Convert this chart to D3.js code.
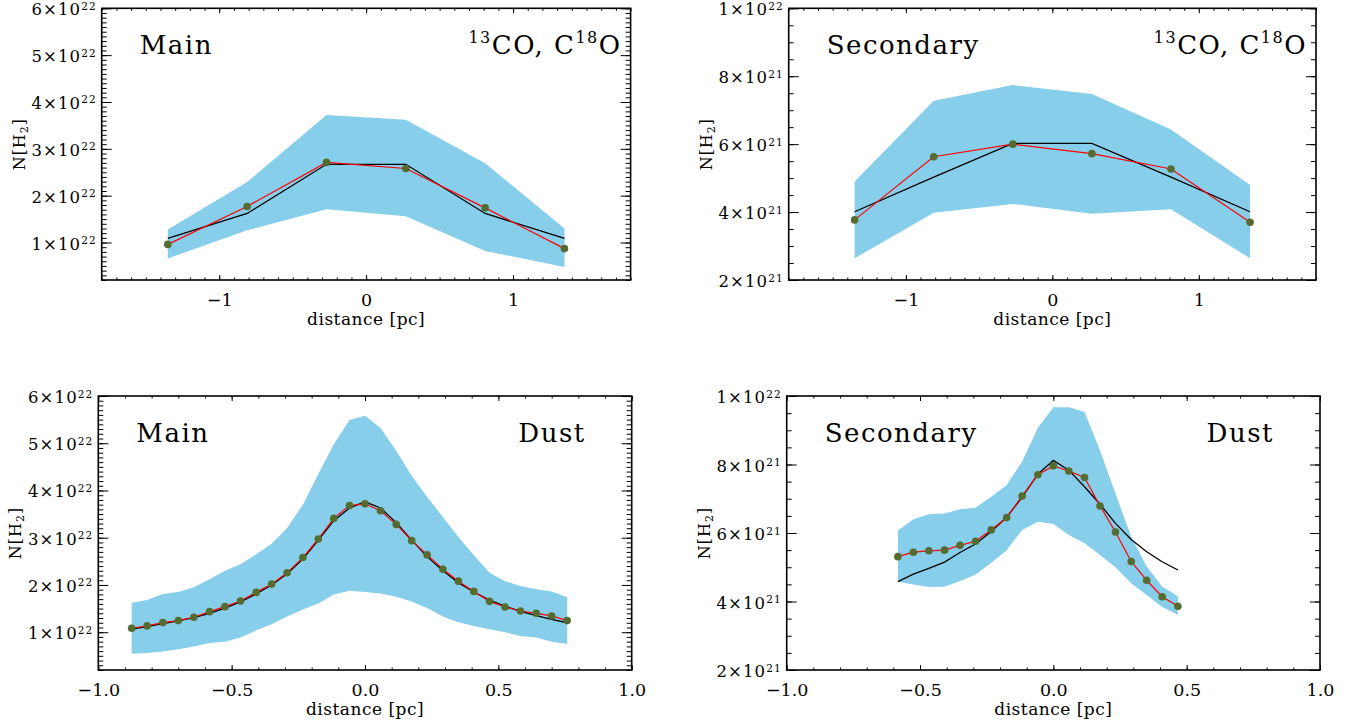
<!DOCTYPE html>
<html>
<head>
<meta charset="utf-8">
<script src="https://cdn.jsdelivr.net/npm/d3@7"></script>
<style>
  body { margin: 0; background: #fff; }
  text { font-family: "DejaVu Serif", serif; fill: #000; }
</style>
</head>
<body>
<svg id="chart" width="1355" height="724"></svg>
<script>
// ---- data (column density in cm^-2, distance in pc) ----

// 13CO / C18O profiles, main filament
var coMainX     = [-1.35, -0.81, -0.27, 0.27, 0.81, 1.35];
var coMainObs   = [0.96e22, 1.77e22, 2.71e22, 2.58e22, 1.74e22, 0.87e22];
var coMainModel = [1.09e22, 1.62e22, 2.67e22, 2.67e22, 1.62e22, 1.09e22];
var coMainHi    = [1.28e22, 2.29e22, 3.72e22, 3.62e22, 2.69e22, 1.30e22];
var coMainLo    = [0.66e22, 1.26e22, 1.71e22, 1.56e22, 0.82e22, 0.475e22];

// 13CO / C18O profiles, secondary filament
var coSecX     = [-1.35, -0.81, -0.27, 0.27, 0.81, 1.35];
var coSecObs   = [3.77e21, 5.63e21, 6.00e21, 5.72e21, 5.27e21, 3.70e21];
var coSecModel = [4.01e21, 5.03e21, 6.02e21, 6.02e21, 5.03e21, 4.01e21];
var coSecHi    = [4.90e21, 7.28e21, 7.74e21, 7.48e21, 6.43e21, 4.80e21];
var coSecLo    = [2.64e21, 3.98e21, 4.24e21, 3.95e21, 4.08e21, 2.64e21];

// dust profiles, main filament (units of 1e22)
var dustMainX = [-0.875, -0.817, -0.758, -0.700, -0.642, -0.583, -0.525, -0.467, -0.408, -0.350,
                 -0.292, -0.233, -0.175, -0.117, -0.058, 0.000, 0.058, 0.117, 0.175, 0.233,
                 0.292, 0.350, 0.408, 0.467, 0.525, 0.583, 0.642, 0.700, 0.758];
var dustMainObs = [1.084, 1.133, 1.204, 1.246, 1.316, 1.435, 1.541, 1.660, 1.843, 2.018,
                   2.257, 2.580, 2.973, 3.409, 3.683, 3.718, 3.570, 3.282, 2.938, 2.636,
                   2.334, 2.081, 1.864, 1.653, 1.534, 1.449, 1.400, 1.344, 1.246];
var dustMainModel = [1.063, 1.12, 1.18, 1.24, 1.31, 1.40, 1.51, 1.64, 1.81, 2.00,
                     2.24, 2.55, 2.95, 3.36, 3.63, 3.76, 3.63, 3.32, 2.95, 2.60,
                     2.30, 2.05, 1.85, 1.68, 1.55, 1.44, 1.35, 1.27, 1.20];
var dustMainHi = [1.625, 1.68, 1.81, 1.85, 1.95, 2.12, 2.30, 2.44, 2.65, 2.875,
                  3.205, 3.70, 4.35, 4.98, 5.49, 5.58, 5.32, 4.84, 4.31, 3.86,
                  3.44, 3.015, 2.63, 2.26, 2.08, 1.98, 1.91, 1.86, 1.74];
var dustMainLo = [0.544, 0.56, 0.59, 0.64, 0.70, 0.77, 0.80, 0.89, 1.04, 1.17,
                  1.33, 1.48, 1.61, 1.80, 1.88, 1.85, 1.82, 1.75, 1.65, 1.51,
                  1.33, 1.21, 1.13, 1.06, 1.00, 0.92, 0.89, 0.80, 0.75];
var dustMainUnit = 1e22;

// dust profiles, secondary filament (units of 1e21)
var dustSecX = [-0.583, -0.525, -0.467, -0.408, -0.350, -0.292, -0.233, -0.175, -0.117, -0.058,
                0.000, 0.058, 0.117, 0.175, 0.233, 0.292, 0.350, 0.408, 0.467];
var dustSecObs = [5.31, 5.44, 5.48, 5.50, 5.64, 5.76, 6.09, 6.45, 7.08, 7.70,
                  7.96, 7.81, 7.62, 6.79, 6.03, 5.17, 4.62, 4.14, 3.86];
var dustSecModel = [4.58, 4.80, 4.97, 5.15, 5.43, 5.68, 6.04, 6.46, 7.05, 7.72,
                    8.12, 7.83, 7.35, 6.84, 6.28, 5.81, 5.45, 5.16, 4.92];
var dustSecHi = [6.07, 6.40, 6.55, 6.57, 6.69, 6.74, 7.06, 7.40, 8.09, 9.07,
                 9.67, 9.67, 9.53, 8.41, 7.15, 5.89, 5.02, 4.44, 4.15];
var dustSecLo = [4.58, 4.50, 4.42, 4.43, 4.60, 4.78, 5.13, 5.50, 6.09, 6.33,
                 6.26, 5.94, 5.70, 5.36, 5.00, 4.53, 4.19, 3.84, 3.61];
var dustSecUnit = 1e21;

// tick values
var xTicksCO   = [-1, 0, 1];
var xTicksDust = [-1.0, -0.5, 0.0, 0.5, 1.0];
var yTicksMain = [1e22, 2e22, 3e22, 4e22, 5e22, 6e22];
var yTicksSec  = [2e21, 4e21, 6e21, 8e21, 1e22];

// labels
var panelNames = ["Main", "Secondary", "Main", "Secondary"];
var tracerNames = ["CO", "CO", "Dust", "Dust"];

var svg = d3.select("#chart");

function rows(xs, obs, model, hi, lo, unit) {
    unit = unit || 1;
    return xs.map(function (x, i) {
        return { x: x, obs: obs[i] * unit, model: model[i] * unit, hi: hi[i] * unit, lo: lo[i] * unit };
    });
}

function expLabel(v) {
    var e = Math.floor(Math.log10(v) + 1e-9);
    var m = Math.round(v / Math.pow(10, e));
    return { m: m, e: e };
}

function drawPanel(p) {
    var g = svg.append("g");
    var x = d3.scaleLinear().domain(p.xDomain).range([p.left, p.right]);
    var y = d3.scaleLinear().domain(p.yDomain).range([p.bottom, p.top]);

    // uncertainty band
    g.append("path")
        .datum(p.data)
        .attr("fill", "#87ceeb")
        .attr("d", d3.area().x(function (d) { return x(d.x); })
            .y0(function (d) { return y(d.lo); })
            .y1(function (d) { return y(d.hi); }));

    // model (black) and observed (red) profiles
    g.append("path")
        .datum(p.data)
        .attr("fill", "none").attr("stroke", "#000").attr("stroke-width", 1.3)
        .attr("d", d3.line().x(function (d) { return x(d.x); }).y(function (d) { return y(d.model); }));
    g.append("path")
        .datum(p.data)
        .attr("fill", "none").attr("stroke", "#f00").attr("stroke-width", 1.2)
        .attr("d", d3.line().x(function (d) { return x(d.x); }).y(function (d) { return y(d.obs); }));
    g.selectAll("circle.pt")
        .data(p.data)
        .enter().append("circle")
        .attr("cx", function (d) { return x(d.x); })
        .attr("cy", function (d) { return y(d.obs); })
        .attr("r", 3.8)
        .attr("fill", "#556b2f");

    // minor ticks on all four sides
    var xMinor = d3.range(Math.ceil(p.xDomain[0] * 10), Math.floor(p.xDomain[1] * 10) + 1)
        .map(function (k) { return k / 10; });
    var yMinor = d3.range(Math.ceil(p.yDomain[0] / p.yMinorStep - 1e-6), Math.floor(p.yDomain[1] / p.yMinorStep + 1e-6) + 1)
        .map(function (k) { return k * p.yMinorStep; });

    function axisGroup(axis, tx, ty) {
        var a = g.append("g").attr("transform", "translate(" + tx + "," + ty + ")").call(axis);
        a.select(".domain").remove();
        a.selectAll("line").attr("stroke", "#000").attr("stroke-width", 1);
        return a;
    }

    axisGroup(d3.axisBottom(x).tickValues(xMinor).tickSize(-2.5).tickFormat(""), 0, p.bottom);
    axisGroup(d3.axisTop(x).tickValues(xMinor).tickSize(-2.5).tickFormat(""), 0, p.top);
    axisGroup(d3.axisLeft(y).tickValues(yMinor).tickSize(-5).tickFormat(""), p.left, 0);
    axisGroup(d3.axisRight(y).tickValues(yMinor).tickSize(-5).tickFormat(""), p.right, 0);

    // major ticks
    var xb = axisGroup(d3.axisBottom(x).tickValues(p.xTicks).tickSize(-5).tickPadding(14)
        .tickFormat(p.xFormat), 0, p.bottom);
    xb.selectAll("text").attr("font-size", 17.5).attr("font-family", "DejaVu Serif");
    axisGroup(d3.axisTop(x).tickValues(p.xTicks).tickSize(-5).tickFormat(""), 0, p.top);
    axisGroup(d3.axisLeft(y).tickValues(p.yTicks).tickSize(-10).tickFormat(""), p.left, 0);
    axisGroup(d3.axisRight(y).tickValues(p.yTicks).tickSize(-10).tickFormat(""), p.right, 0);

    // y tick labels like 6×10^22
    var yl = g.selectAll("text.ylab")
        .data(p.yTicks)
        .enter().append("text")
        .attr("class", "ylab")
        .attr("x", p.left - 5)
        .attr("y", function (d) { return y(d) + 7; })
        .attr("text-anchor", "end")
        .attr("font-size", 16.5)
        .attr("letter-spacing", 1.1);
    yl.append("tspan").text(function (d) { return expLabel(d).m + "×10"; });
    yl.append("tspan").attr("font-size", 10.5).attr("dy", -5.5)
        .text(function (d) { return expLabel(d).e; });

    // frame
    g.append("rect")
        .attr("x", p.left).attr("y", p.top)
        .attr("width", p.right - p.left).attr("height", p.bottom - p.top)
        .attr("fill", "none").attr("stroke", "#000").attr("stroke-width", 1.6);

    // axis titles
    g.append("text")
        .attr("x", (p.left + p.right) / 2).attr("y", p.bottom + 45)
        .attr("text-anchor", "middle").attr("font-size", 17).attr("letter-spacing", 0.5)
        .text("distance [pc]");
    var yt = g.append("text")
        .attr("transform", "translate(" + (p.left - 77) + "," + ((p.top + p.bottom) / 2) + ") rotate(-90)")
        .attr("text-anchor", "middle").attr("font-size", 16).attr("letter-spacing", 1);
    yt.append("tspan").text("N[H");
    yt.append("tspan").attr("font-size", 11).attr("dy", 3).text("2");
    yt.append("tspan").attr("dy", -3).text("]");

    // panel name and tracer
    g.append("text")
        .attr("x", p.left + 38).attr("y", p.top + 46)
        .attr("font-size", 26).attr("letter-spacing", 1.5)
        .text(p.name);
    var tr = g.append("text")
        .attr("x", p.right - p.tracerPad).attr("y", p.top + 46)
        .attr("text-anchor", "end").attr("font-size", 26).attr("letter-spacing", 1.5);
    if (p.tracer === "CO") {
        tr.append("tspan").attr("font-size", 16).attr("dy", -11).text("13");
        tr.append("tspan").attr("dy", 11).text("CO, C");
        tr.append("tspan").attr("font-size", 16).attr("dy", -11).text("18");
        tr.append("tspan").attr("dy", 11).text("O");
    } else {
        tr.text(p.tracer);
    }
}

var fmtInt = function (d) { return d3.format("d")(d); };
var fmt1 = d3.format(".1f");

drawPanel({
    left: 101.7, right: 630.6, top: 8.3, bottom: 280,
    xDomain: [-1.8, 1.8], yDomain: [0.2e22, 6e22],
    xTicks: xTicksCO, xFormat: fmtInt, yTicks: yTicksMain, yMinorStep: 0.1e22,
    data: rows(coMainX, coMainObs, coMainModel, coMainHi, coMainLo),
    name: panelNames[0], tracer: tracerNames[0], tracerPad: 9
});
drawPanel({
    left: 788.7, right: 1316, top: 8.3, bottom: 280,
    xDomain: [-1.8, 1.8], yDomain: [2e21, 1e22],
    xTicks: xTicksCO, xFormat: fmtInt, yTicks: yTicksSec, yMinorStep: 0.5e21,
    data: rows(coSecX, coSecObs, coSecModel, coSecHi, coSecLo),
    name: panelNames[1], tracer: tracerNames[1], tracerPad: 9
});
drawPanel({
    left: 98.3, right: 631.7, top: 396, bottom: 670,
    xDomain: [-1, 1], yDomain: [0.2e22, 6e22],
    xTicks: xTicksDust, xFormat: fmt1, yTicks: yTicksMain, yMinorStep: 0.1e22,
    data: rows(dustMainX, dustMainObs, dustMainModel, dustMainHi, dustMainLo, dustMainUnit),
    name: panelNames[2], tracer: tracerNames[2], tracerPad: 46
});
drawPanel({
    left: 786.7, right: 1320, top: 396, bottom: 670,
    xDomain: [-1, 1], yDomain: [2e21, 1e22],
    xTicks: xTicksDust, xFormat: fmt1, yTicks: yTicksSec, yMinorStep: 0.5e21,
    data: rows(dustSecX, dustSecObs, dustSecModel, dustSecHi, dustSecLo, dustSecUnit),
    name: panelNames[3], tracer: tracerNames[3], tracerPad: 46
});
</script>
</body>
</html>
